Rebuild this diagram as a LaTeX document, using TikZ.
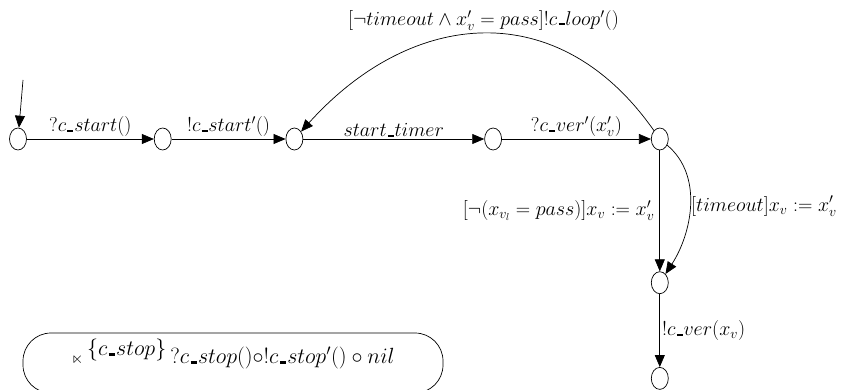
\documentclass[tikz,border=0pt]{standalone}
\usepackage{amssymb}
\usepackage{fix-cm}
\usetikzlibrary{arrows.meta,positioning,shapes.geometric}
\newcommand{\usc}{\kern.06em\rule{.3em}{.1em}\kern.04em}

\begin{document}
\begin{tikzpicture}[
  x=1pt, y=1pt,
  node distance=120pt,
  font=\fontsize{20}{23}\selectfont,
  state/.style={draw, ellipse, minimum width=17pt, minimum height=22pt, inner sep=0pt, line width=0.7pt},
  arrow/.style={-{Triangle[length=12pt, width=10pt]}, line width=0.7pt},
  envbox/.style={draw, rounded corners=28pt, minimum width=420pt, minimum height=60pt, line width=0.7pt}
]
\useasboundingbox (0,0) rectangle (854,389);
\node[state] (s0) at (18,250) {};
\node[state, right=127pt of s0] (s1) {};
\node[state, right=114pt of s1] (s2) {};
\node[state, right=181pt of s2] (s3) {};
\node[state, right=149pt of s3] (s4) {};
\node[state, below=121pt of s4] (s5) {};
\node[state, below=73pt of s5] (s6) {};
\coordinate (init) at (23,309);
\node[envbox] (env) at (233,26) {};
\node[font=\fontsize{22}{25}\selectfont] (envtext) at ([yshift=9pt]env.center) {${\scriptstyle\ltimes}\,^{\textstyle\{c\usc stop\}}\,?c\usc stop(){\circ}!c\usc stop'()\circ nil$};
\draw[arrow] (init) -- (s0);
\draw[arrow] (s0) -- node[above, inner sep=2pt] {$?c\usc start()$} (s1);
\draw[arrow] (s1) -- node[above, inner sep=2pt] {$!c\usc start'()$} (s2);
\draw[arrow] (s2) -- node[above, inner sep=2pt] {$start\usc timer$} (s3);
\draw[arrow] (s3) -- node[above, inner sep=2pt] {$?c\usc ver'(x'_v)$} (s4);
\draw[arrow] (s4) to[out=125, in=48, looseness=1.2] node[above] {$[\neg timeout\wedge x'_v=pass]!c\usc loop'()$} (s2);
\draw[arrow] (s4) -- node[left, inner sep=5pt] {$[\neg(x_{v_l}=pass)]x_v:=x'_v$} (s5);
\draw[arrow] (s4) to[out=-40, in=57, looseness=0.95] node[right, inner sep=1pt] {$[timeout]x_v:=x'_v$} (s5);
\draw[arrow] (s5) -- node[right, inner sep=2pt] {$!c\usc ver(x_v)$} (s6);
\end{tikzpicture}
\end{document}
